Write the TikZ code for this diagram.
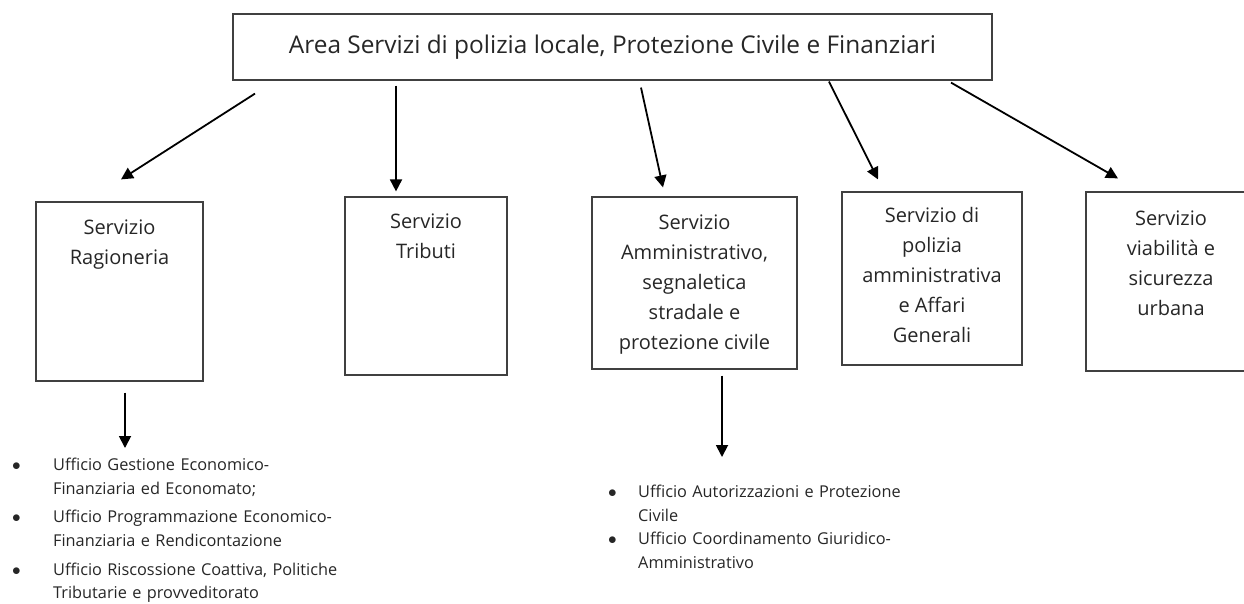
\documentclass[tikz,border=0pt]{standalone}
\usepackage{fontspec}
\setmainfont{Open Sans}
\usepackage{tikz}
\usetikzlibrary{positioning,arrows.meta}

% one bullet line with hanging indent
\newcommand{\ufitem}[2]{\noindent\hangindent=#1\hangafter=1\makebox[#1][l]{$\bullet$}#2\par}

\begin{document}
\begin{tikzpicture}[x=1pt, y=-1pt,
  svc/.style={draw=black!75, line width=1.2pt, inner sep=0pt},
  svctxt/.style={font=\fontsize{20}{30}\selectfont, align=center, inner sep=0pt, text=black!85},
  arr/.style={-{Triangle[width=12pt,length=12pt]}, line width=1.8pt},
  lst/.style={font=\fontsize{16.3}{23.6}\selectfont, text width=360pt, inner sep=0pt,
              anchor=north west, text=black!85}
]
  \useasboundingbox (0,0) rectangle (1244,603);
  \clip (0,0) rectangle (1244,603);

  % Area on top
  \node[svc, minimum width=759pt, minimum height=66pt, text=black!85,
        font=\fontsize{24.4}{30}\selectfont] (area) at (612.5,47)
    {Area Servizi di polizia locale, Protezione Civile e Finanziari};

  % Five services
  \node[svc, minimum width=167pt, minimum height=179pt] (rag) at (119.5,291.5) {};
  \node[svc, minimum width=162pt, minimum height=178pt] (trib) at (426,286) {};
  \node[svc, minimum width=205pt, minimum height=172pt] (amm) at (694.5,283) {};
  \node[svc, minimum width=180pt, minimum height=173pt] (pol) at (932,278.5) {};
  \node[svc, minimum width=170pt, minimum height=179pt] (via) at (1171,281.5) {};

  \node[svctxt, below=18pt of rag.north] (ragtxt) {Servizio\\Ragioneria};
  \node[svctxt, below=17pt of trib.north] (tribtxt) {Servizio\\Tributi};
  \node[svctxt, below=18pt of amm.north] (ammtxt)
    {Servizio\\Amministrativo,\\segnaletica\\stradale e\\protezione civile};
  \node[svctxt, below=16pt of pol.north] (poltxt)
    {Servizio di\\polizia\\amministrativa\\e Affari\\Generali};
  \node[svctxt, below=19pt of via.north] (viatxt)
    {Servizio\\viabilità e\\sicurezza\\urbana};

  % Offices
  \node[lst] (raglist) at (12,458) {%
    \ufitem{41pt}{Ufficio Gestione Economico-\newline Finanziaria ed Economato;}%
    \vspace{5pt}%
    \ufitem{41pt}{Ufficio Programmazione Economico-\newline Finanziaria e Rendicontazione}%
    \vspace{5pt}%
    \ufitem{41pt}{Ufficio Riscossione Coattiva, Politiche\newline Tributarie e provveditorato}};
  \node[lst] (ammlist) at (608,485) {%
    \ufitem{30pt}{Ufficio Autorizzazioni e Protezione\newline Civile}%
    \ufitem{30pt}{Ufficio Coordinamento Giuridico-\newline Amministrativo}};

  % Arrows from the area
  \draw[arr] ([shift={(-357.5,13)}]area.south) -- ([shift={(1.5,-22)}]rag.north);
  \draw[arr] ([shift={(-216.5,5)}]area.south) -- ([shift={(-30,-5)}]trib.north);
  \draw[arr] ([shift={(28.5,7)}]area.south) -- ([shift={(-31.5,-9)}]amm.north);
  \draw[arr] ([shift={(216.5,1)}]area.south) -- ([shift={(-54,-12)}]pol.north);
  \draw[arr] ([shift={(338.5,2)}]area.south) -- ([shift={(-53,-13)}]via.north);

  % Arrows to the offices
  \draw[arr] ([shift={(5.5,11)}]rag.south) -- ([shift={(113,-10)}]raglist.north west);
  \draw[arr] ([shift={(27.5,6)}]amm.south) -- ([shift={(114,-28)}]ammlist.north west);
\end{tikzpicture}
\end{document}
